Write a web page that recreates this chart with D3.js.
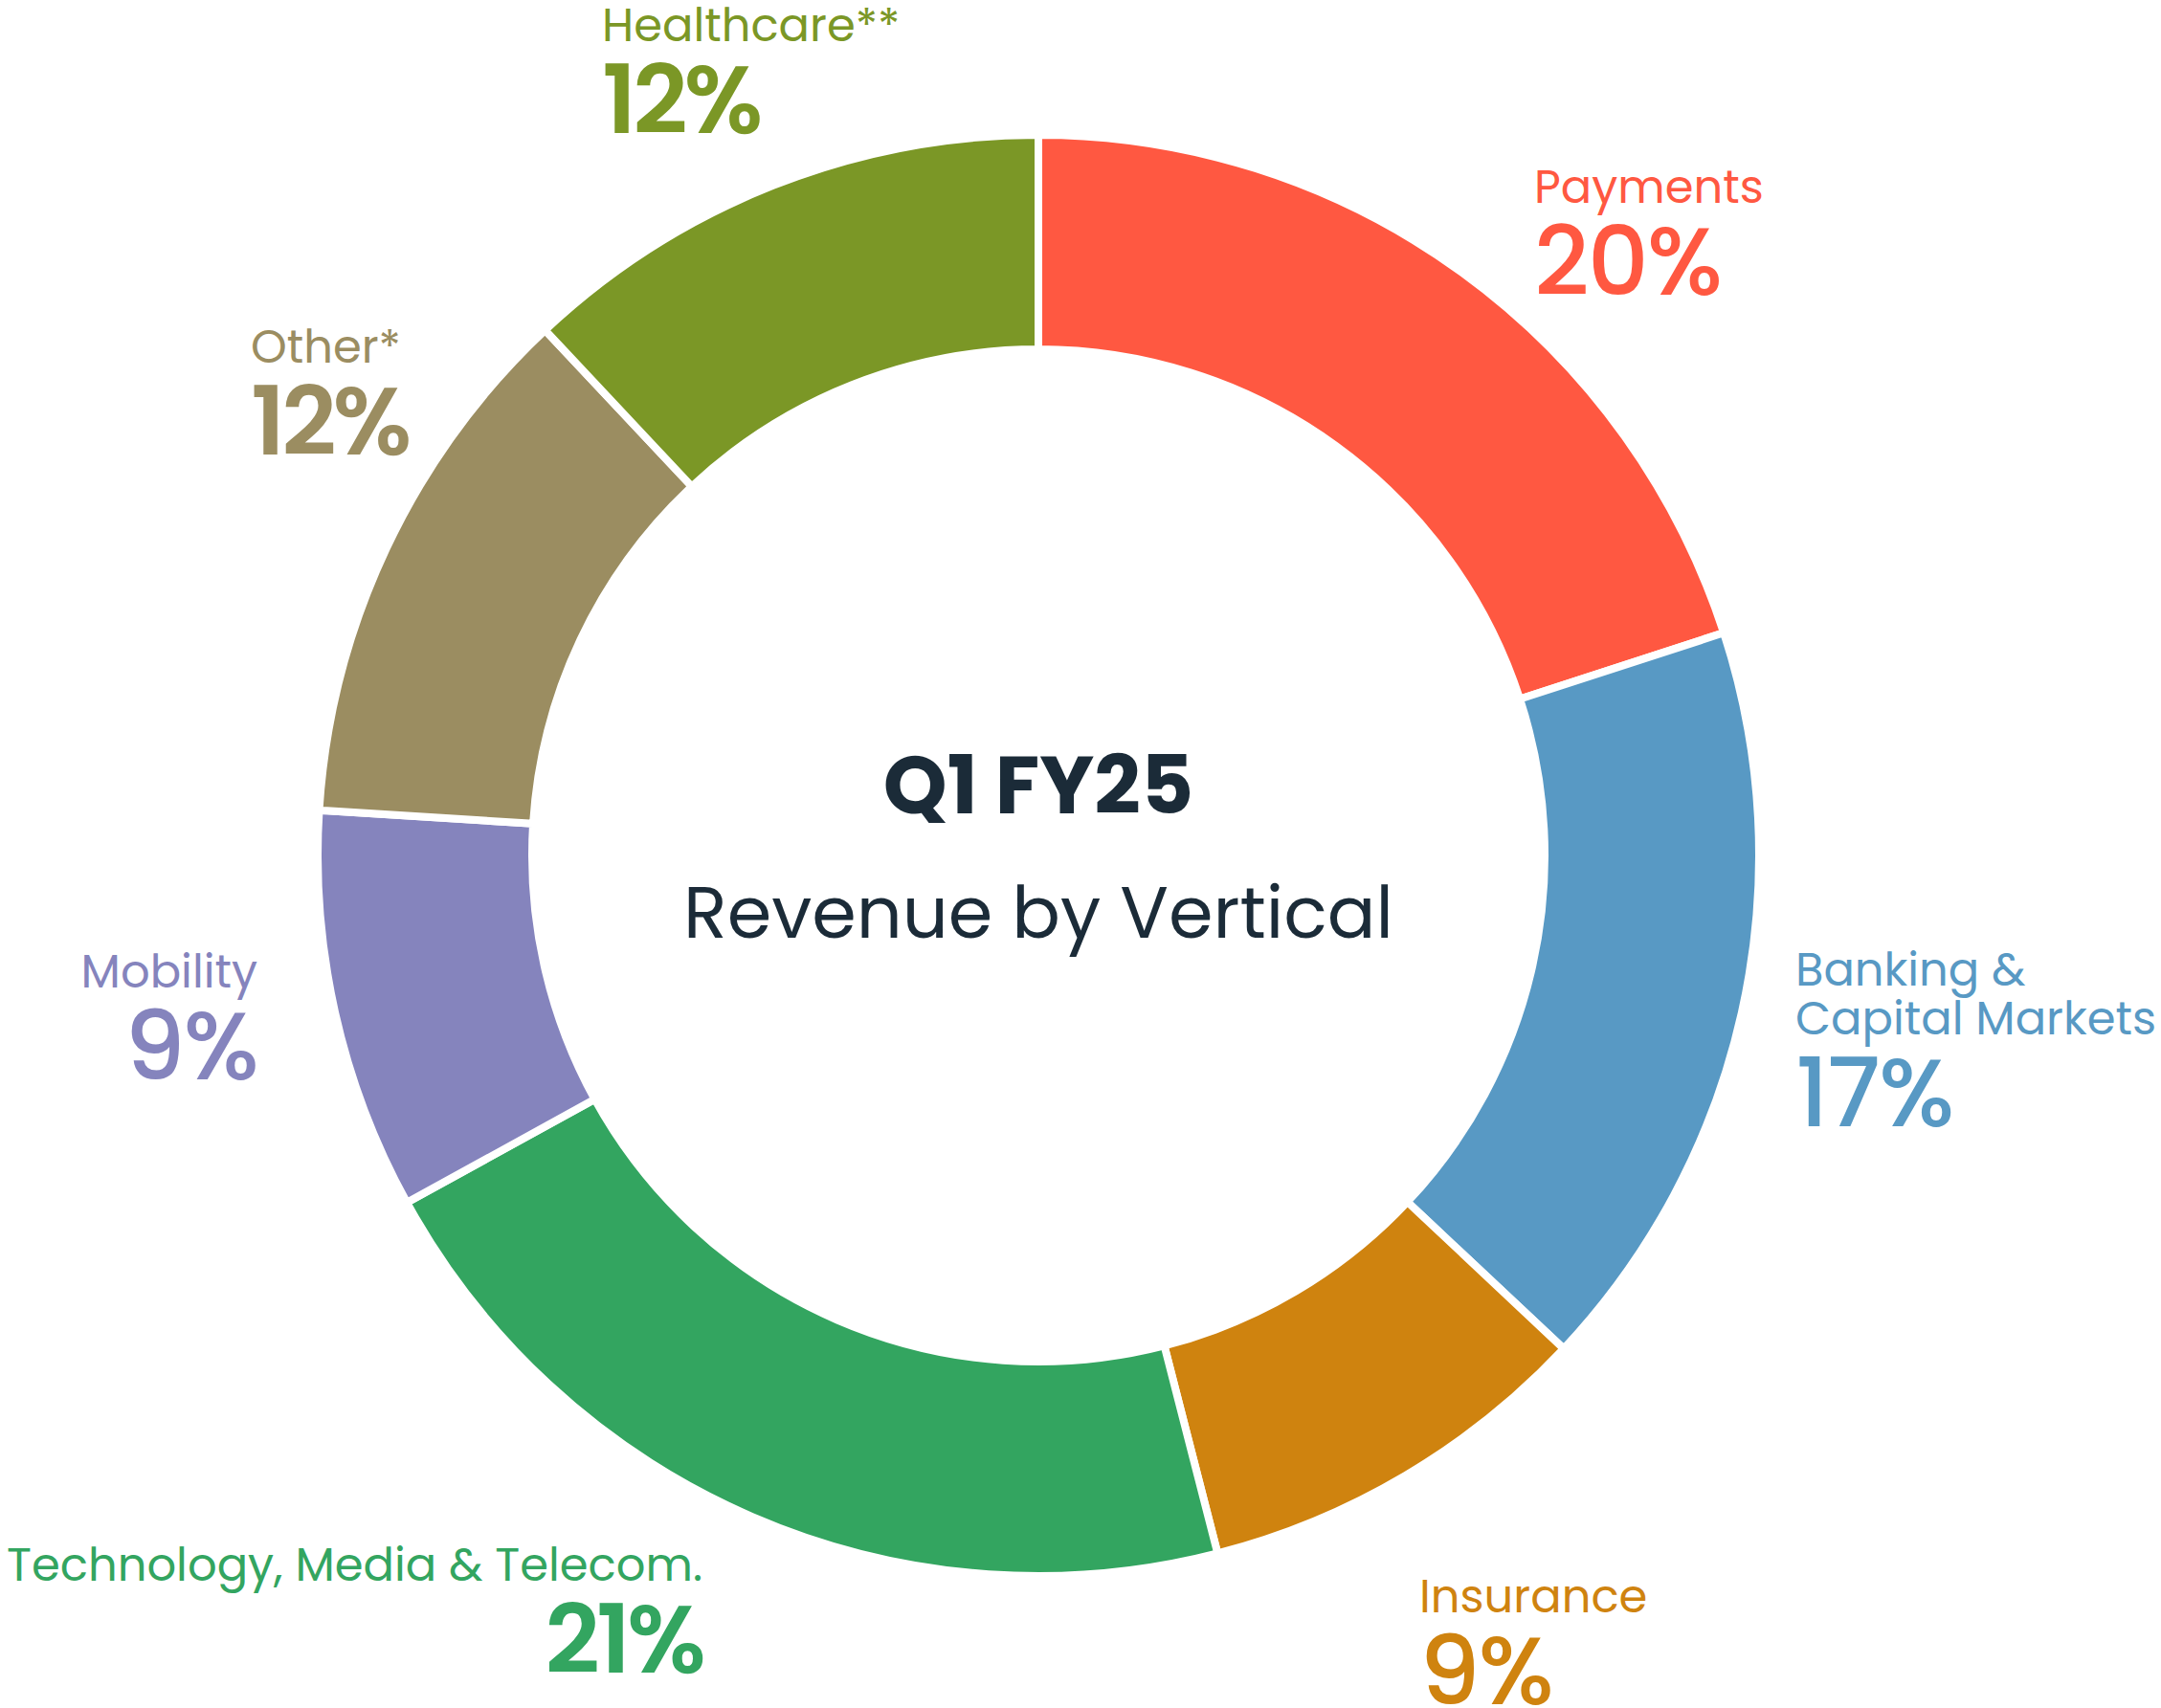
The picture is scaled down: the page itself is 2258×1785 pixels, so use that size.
<!DOCTYPE html>
<html>
<head>
<meta charset="utf-8">
<script src="https://d3js.org/d3.v7.min.js"></script>
<style>
  body { margin: 0; background: #fff; }
  text { font-family: Poppins, Inter, "Noto Sans", sans-serif; }
</style>
</head>
<body>
<svg id="chart" width="2258" height="1785"></svg>
<script>
// data
var verticals = ["Payments", "Banking & Capital Markets", "Insurance",
  "Technology, Media & Telecom.", "Mobility", "Other*", "Healthcare**"];
var shares = [20, 17, 9, 21, 9, 12, 12];
var colors = ["#ff5841", "#5899c4", "#cf830f", "#33a560", "#8584bd", "#9b8d61", "#7b9726"];
var nameLines = [["Payments"], ["Banking &", "Capital Markets"], ["Insurance"],
  ["Technology, Media & Telecom."], ["Mobility"], ["Other*"], ["Healthcare**"]];
var title = "Q1 FY25";
var subtitle = "Revenue by Vertical";

// layout
var cx = 1085, cy = 894, outerR = 753, innerR = 529;
// label anchor, first baseline, anchor side, pct weight
var labelPos = [
  {x: 1603, y: 212, a: "start", w: 500},
  {x: 1876, y: 1030, a: "start", w: 500},
  {x: 1483, y: 1685, a: "start", w: 500},
  {x: 734, y: 1652, a: "end", w: 600},
  {x: 269, y: 1032, a: "end", w: 500},
  {x: 262, y: 379, a: "start", w: 600},
  {x: 629, y: 43, a: "start", w: 600}
];

var svg = d3.select("#chart");
var data = verticals.map(function(v, i) {
  return {name: v, value: shares[i], color: colors[i], lines: nameLines[i], pos: labelPos[i]};
});

var pie = d3.pie().sort(null).value(function(d) { return d.value; });
var arc = d3.arc().innerRadius(innerR).outerRadius(outerR);

var g = svg.append("g").attr("transform", "translate(" + cx + "," + cy + ")");
g.selectAll("path")
  .data(pie(data))
  .enter()
  .append("path")
    .attr("d", arc)
    .attr("fill", function(d) { return d.data.color; })
    .attr("stroke", "#fff")
    .attr("stroke-width", 8)
    .attr("stroke-linejoin", "miter");

// center text
svg.append("text")
  .attr("x", cx).attr("y", 850)
  .attr("text-anchor", "middle")
  .attr("fill", "#1b2b38")
  .style("font-size", "85px")
  .style("font-weight", 700)
  .text(title);
svg.append("text")
  .attr("x", cx).attr("y", 980)
  .attr("text-anchor", "middle")
  .attr("fill", "#1b2b38")
  .style("font-size", "75px")
  .style("font-weight", 400)
  .text(subtitle);

// labels
var labels = svg.selectAll("g.lab")
  .data(data)
  .enter()
  .append("g")
  .attr("class", "lab");

labels.each(function(d) {
  var el = d3.select(this);
  d.lines.forEach(function(line, j) {
    el.append("text")
      .attr("x", d.pos.x)
      .attr("y", d.pos.y + j * 51)
      .attr("text-anchor", d.pos.a)
      .attr("fill", d.color)
      .style("font-size", "48px")
      .text(line);
  });
  el.append("text")
    .attr("x", d.pos.x)
    .attr("y", d.pos.y + (d.lines.length - 1) * 51 + 96)
    .attr("text-anchor", d.pos.a)
    .attr("fill", d.color)
    .style("font-size", "100px")
    .style("font-weight", d.pos.w)
    .style("letter-spacing", d.pos.w > 500 ? "-4px" : "-2px")
    .text(d.value + "%");
});
</script>
</body>
</html>
